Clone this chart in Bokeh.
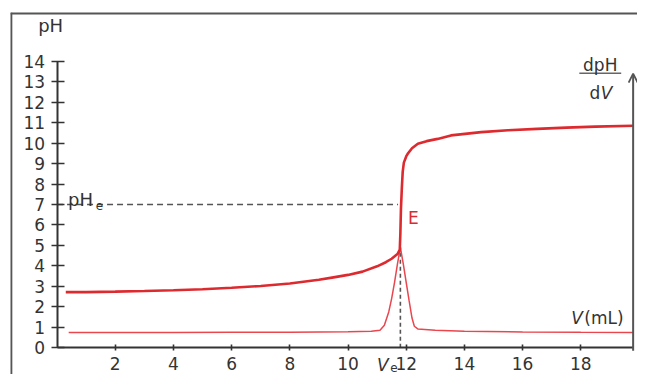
from bokeh.plotting import figure
from bokeh.models import (Range1d, LinearAxis, FixedTicker, Label, Span, Arrow,
                          OpenHead)
from bokeh.embed import file_html
from bokeh.resources import INLINE

# ---- data ----
v_ph = [0.3, 1, 2, 3, 4, 5, 6, 7, 8, 9, 9.5, 10, 10.5, 11, 11.3, 11.5, 11.7,
        11.78, 11.8, 11.82, 11.85, 11.88, 11.92, 12.0, 12.05, 12.2, 12.4, 12.7,
        13.08, 13.54, 14.58, 15.5, 16.5, 17.5, 18.5, 19.8]
ph = [2.72, 2.72, 2.74, 2.77, 2.81, 2.86, 2.93, 3.02, 3.14, 3.32, 3.44, 3.56,
      3.72, 3.98, 4.18, 4.35, 4.58, 4.8, 5.6, 6.8, 7.8, 8.6, 9.05, 9.35, 9.48,
      9.75, 9.97, 10.1, 10.21, 10.38, 10.54, 10.63, 10.7, 10.76, 10.81, 10.85]

v_d = [0.4, 2, 4, 6, 8, 10, 10.8, 11.1, 11.25, 11.4, 11.5, 11.6, 11.7, 11.8,
       11.9, 12.0, 12.1, 12.2, 12.28, 12.4, 13, 14, 16, 18, 19.8]
dph = [0.74, 0.74, 0.74, 0.75, 0.76, 0.78, 0.8, 0.85, 1.1, 1.75, 2.4, 3.2, 4.1,
       4.9, 4.1, 3.2, 2.3, 1.45, 1.05, 0.92, 0.85, 0.8, 0.77, 0.75, 0.74]

VE = 11.8      # equivalence volume
PHE = 7.0      # pH at equivalence
V_MAX = 19.8
PH_MAX = 14
y_ticks = list(range(0, 15))
x_ticks = [2, 4, 6, 8, 10, 12, 14, 16, 18]

X0, X1 = -1.6, 19.95
Y0, Y1 = -1.31, 16.39

RED = "#dc2a2f"
RED2 = "#e9464e"
FONT = "DejaVu Sans"
TXT = "#333333"

p = figure(width=637, height=374, output_backend="svg", toolbar_location=None,
           x_range=Range1d(X0, X1), y_range=Range1d(Y0, Y1),
           x_axis_type=None, y_axis_type=None,
           min_border_left=10, min_border_top=12, min_border_right=0,
           min_border_bottom=0)
p.outline_line_color = None
p.xgrid.visible = False
p.ygrid.visible = False

# outer frame (top & left)
p.add_layout(Span(location=X0 + 0.02, dimension="height", line_color="#555555", line_width=2.5))
p.add_layout(Span(location=Y1 - 0.04, dimension="width", line_color="#555555", line_width=2.5))

# axes
yax = LinearAxis(fixed_location=0, bounds=(0, PH_MAX), ticker=FixedTicker(ticks=y_ticks))
yax.axis_line_color = "#333333"
yax.axis_line_width = 2
yax.major_tick_line_color = "#333333"
yax.major_tick_line_width = 1.6
yax.major_tick_in = 7
yax.major_tick_out = 6
yax.minor_tick_line_color = None
yax.major_label_standoff = 6
yax.major_label_text_font = FONT
yax.major_label_text_font_size = "17px"
yax.major_label_text_color = TXT
p.add_layout(yax, "left")

xax = LinearAxis(fixed_location=0, bounds=(0, V_MAX), ticker=FixedTicker(ticks=x_ticks))
xax.axis_line_color = "#333333"
xax.axis_line_width = 2
xax.major_tick_line_color = "#333333"
xax.major_tick_line_width = 1.6
xax.major_tick_in = 3
xax.major_tick_out = 3
xax.minor_tick_line_color = None
xax.major_label_standoff = 6
xax.major_label_text_font = FONT
xax.major_label_text_font_size = "17px"
xax.major_label_text_color = TXT
p.add_layout(xax, "below")

# right dpH/dV axis with arrow
p.add_layout(Arrow(end=OpenHead(size=9, line_width=1.8, line_color="#555555"),
                   x_start=V_MAX, y_start=-0.15, x_end=V_MAX, y_end=13.4,
                   line_width=2, line_color="#555555"))

# dashed guide lines
p.segment(x0=[0], y0=[PHE], x1=[VE - 0.08], y1=[PHE], line_color="#555555",
          line_width=1.6, line_dash="6 4")
p.segment(x0=[VE], y0=[0], x1=[VE], y1=[max(dph)], line_color="#555555",
          line_width=1.6, line_dash="4 3")

# curves
p.line(v_d, dph, line_color=RED2, line_width=1.5)
p.line(v_ph, ph, line_color=RED, line_width=2.6)

# fraction line dpH / dV
p.segment(x0=[17.95], y0=[13.42], x1=[19.39], y1=[13.42], line_color="#666666", line_width=1.4)

def lab(x, y, text, size="17px", color=TXT, align="left", style="normal", baseline="alphabetic"):
    p.add_layout(Label(x=x, y=y, text=text, text_font=FONT, text_font_size=size,
                       text_color=color, text_align=align, text_font_style=style,
                       text_baseline=baseline))

lab(-0.22, 15.75, "pH", size="18px", align="center", baseline="alphabetic")
lab(0.38, 7.25, "pH", size="18px")
lab(1.33, 6.97, "e", size="12px")
lab(12.06, 6.32, "E", color=RED)
lab(18.67, 13.83, "dpH", align="center")
lab(18.67, 12.43, "d", align="right")
lab(18.69, 12.43, "V", style="italic")
lab(17.67, 1.43, "V", style="italic")
lab(18.12, 1.43, "(mL)")
lab(11.0, -0.84, "V", style="italic")
lab(11.45, -0.95, "e", size="12px")

open("out.html", "w").write(file_html(p, INLINE))
